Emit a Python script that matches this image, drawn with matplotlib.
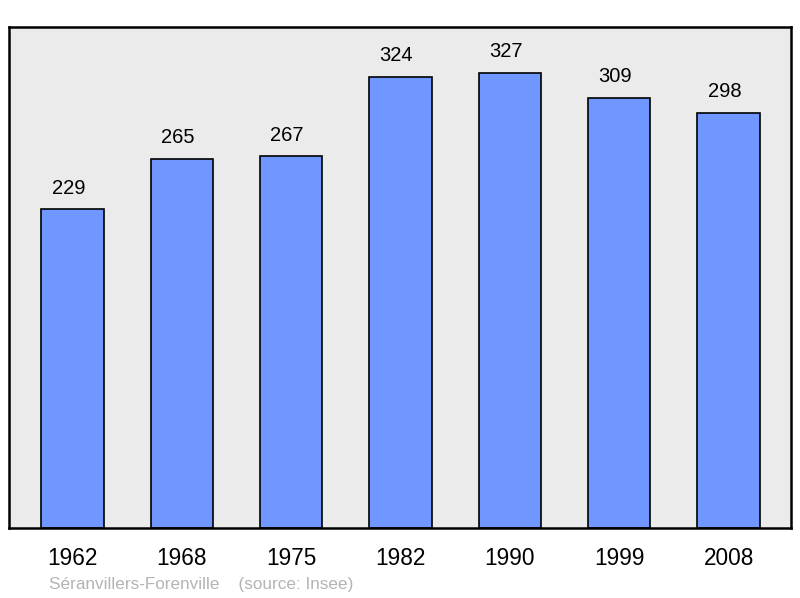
import matplotlib.pyplot as plt

plt.rcParams['font.family'] = ['Liberation Sans', 'DejaVu Sans']

years = ['1962', '1968', '1975', '1982', '1990', '1999', '2008']
population = [229, 265, 267, 324, 327, 309, 298]

fig = plt.figure(figsize=(8, 5.98), dpi=100)
ax = fig.add_axes([9 / 800, 70 / 598, 782 / 800, 501 / 598])
ax.set_facecolor('#ebebeb')

x = range(len(years))
bars = ax.bar(x, population, width=0.57, color='#7096ff', edgecolor='black', linewidth=1.2)

# value labels sit a little left of the bar centre in the original
for xi, v in zip(x, population):
    ax.annotate(str(v), (xi, v), xytext=(-3, 8.5), textcoords='offset points',
                ha='center', va='bottom', fontsize=14.5)

ax.set_xlim(-0.58, 6.57)
ax.set_ylim(0, 360)
ax.set_xticks(list(x))
ax.set_xticklabels(years, fontsize=16.3)
ax.tick_params(axis='x', length=0, pad=14)
ax.set_yticks([])
for s in ax.spines.values():
    s.set_linewidth(1.8)

fig.text(49 / 800, 1 - 584 / 598, 'Séranvillers-Forenville    (source: Insee)',
         fontsize=12.3, color='#b4b4b4', va='center', ha='left')

fig.savefig('out.png', dpi=100)
